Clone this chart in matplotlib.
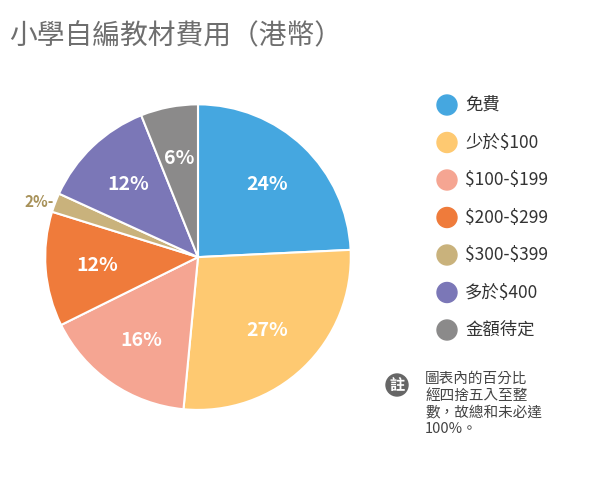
import matplotlib.pyplot as plt
import numpy as np

plt.rcParams["font.family"] = ["Noto Sans CJK TC", "DejaVu Sans"]
plt.rcParams["text.parse_math"] = False

labels = ["免費", "少於$100", "$100-$199", "$200-$299", "$300-$399", "多於$400", "金額待定"]
values = [24, 27, 16, 12, 2, 12, 6]
colors = ["#45a7e0", "#fec971", "#f5a592", "#ef7b3b", "#c9b27c", "#7b77b7", "#8b8a8a"]

fig = plt.figure(figsize=(6, 4.87), dpi=100)
fig.text(0.015, 0.925, "小學自編教材費用（港幣）", fontsize=20, color="#6e6e6e", va="center")

ax = fig.add_axes([0.07, 0.152, 0.52, 0.64])
wedges, _ = ax.pie(values, colors=colors, startangle=90, counterclock=False,
                   wedgeprops=dict(edgecolor="white", linewidth=1.5))
ax.set_xlim(-1.02, 1.02)
ax.set_ylim(-1.02, 1.02)
ax.set_aspect("equal")

for w, v in zip(wedges, values):
    ang = np.deg2rad((w.theta1 + w.theta2) / 2)
    if v < 5:
        ax.text(1.01 * np.cos(ang), 1.01 * np.sin(ang), f"{v}%-", color="#a8925a",
                fontsize=11, fontweight="bold", ha="right", va="center")
    else:
        ax.text(0.66 * np.cos(ang), 0.66 * np.sin(ang), f"{v}%", color="white",
                fontsize=14, fontweight="bold", ha="center", va="center")

for i, (lab, c) in enumerate(zip(labels, colors)):
    y = (487 - (105 + i * 37.5)) / 100
    fig.patches.append(plt.Circle((4.47, y), 0.1, color=c,
                                  transform=fig.dpi_scale_trans, figure=fig))
    fig.text(465 / 600, y / 4.87, lab, fontsize=12.5, color="#333333", va="center")

fig.patches.append(plt.Circle((3.97, (487 - 385) / 100), 0.11, color="#666666",
                              transform=fig.dpi_scale_trans, figure=fig))
fig.text(397 / 600, 1 - 385 / 487, "註", fontsize=11, color="white", ha="center",
         va="center", fontweight="bold")
note = "圖表內的百分比\n經四捨五入至整\n數，故總和未必達\n100%。"
fig.text(425 / 600, 1 - 372 / 487, note, fontsize=10.5, color="#444444", va="top",
         linespacing=1.25)

fig.savefig("out.png", dpi=100)
